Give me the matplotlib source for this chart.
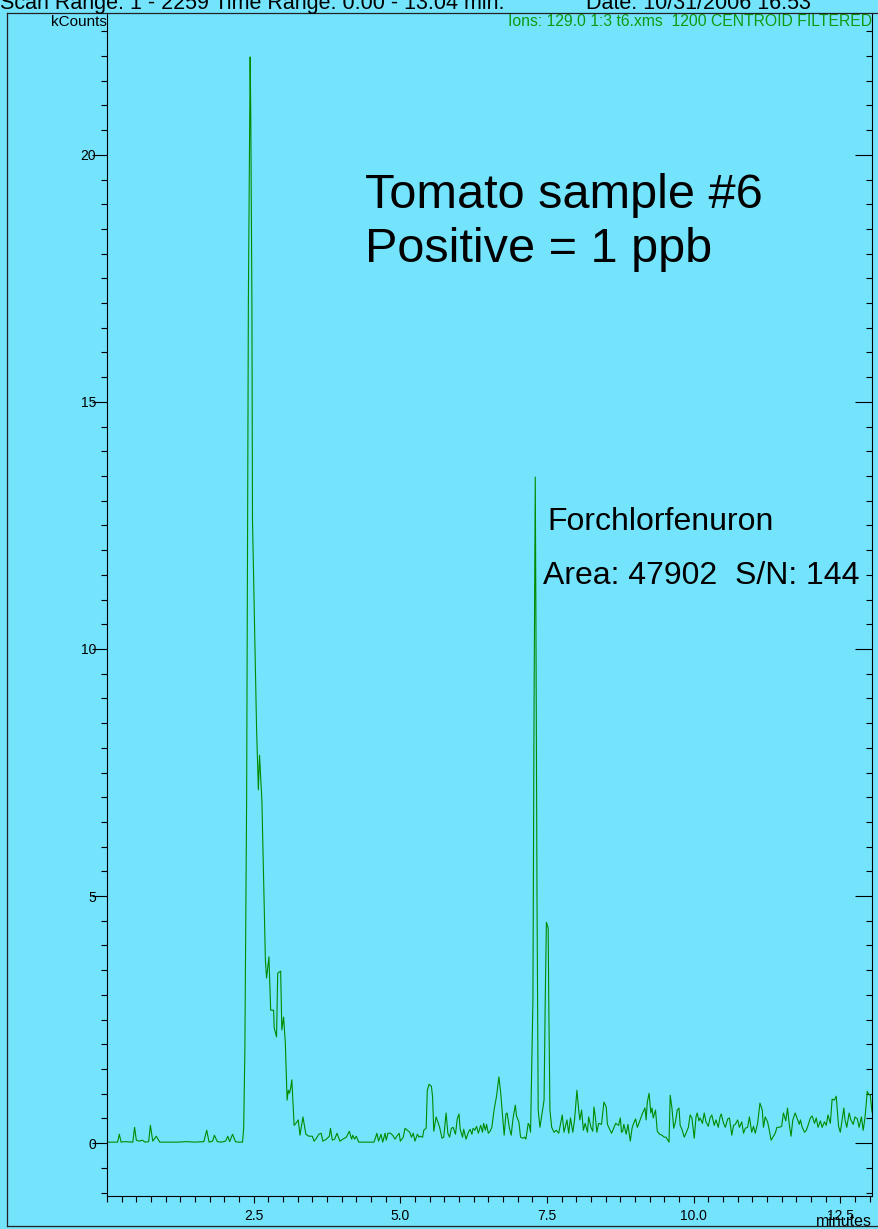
import matplotlib
matplotlib.use("Agg")
import matplotlib.pyplot as plt
from matplotlib.ticker import MultipleLocator, FixedLocator
from matplotlib.lines import Line2D

plt.rcParams['font.family'] = ['Liberation Sans', 'DejaVu Sans']

# --- chromatogram, ion 129.0 (time in minutes, intensity in kCounts) ---
time_min = [
    0.00, 0.18, 0.21, 0.24, 0.30, 0.44, 0.47, 0.50, 0.55, 0.60, 0.65, 0.71, 0.74, 0.78,
    0.84, 0.90, 1.20, 1.35, 1.50, 1.65, 1.70, 1.74, 1.80, 1.83, 1.88, 1.95, 2.02, 2.06,
    2.09, 2.14, 2.19, 2.24,
    2.31, 2.33, 2.35, 2.38, 2.41, 2.44, 2.45, 2.47, 2.48, 2.52, 2.55, 2.58, 2.60, 2.64,
    2.67, 2.70, 2.72, 2.76, 2.79, 2.84, 2.85, 2.89, 2.91, 2.96, 2.98, 3.01, 3.04, 3.07,
    3.09, 3.11, 3.13, 3.15, 3.19, 3.22, 3.26, 3.29,
    3.34, 3.39, 3.44, 3.50, 3.53, 3.57, 3.61, 3.65, 3.68, 3.74, 3.79, 3.81, 3.84, 3.88,
    3.92, 3.97, 4.02, 4.08, 4.13, 4.17, 4.19, 4.22, 4.25, 4.29, 4.55, 4.58, 4.60, 4.63,
    4.67, 4.70, 4.74, 4.76, 4.79, 4.83, 4.87, 4.91, 4.94, 4.98, 5.00, 5.05, 5.08, 5.12,
    5.16, 5.19, 5.22, 5.25, 5.29, 5.32, 5.34, 5.38, 5.40, 5.44, 5.46, 5.49, 5.53, 5.55,
    5.57, 5.61, 5.64, 5.67, 5.71, 5.74, 5.78, 5.81, 5.84, 5.87, 5.90, 5.94, 5.97, 6.00,
    6.02, 6.06, 6.08, 6.12, 6.16, 6.19, 6.22, 6.24, 6.27, 6.30, 6.33, 6.37, 6.40, 6.42,
    6.45, 6.47, 6.50, 6.53, 6.56, 6.60, 6.64, 6.68, 6.71, 6.73, 6.77, 6.80, 6.82, 6.86,
    6.89, 6.92, 6.96, 6.98, 7.02, 7.05, 7.09, 7.12, 7.14, 7.18, 7.20, 7.22,
    7.26, 7.28, 7.30, 7.31, 7.33, 7.35, 7.38, 7.42, 7.45, 7.47, 7.49, 7.52, 7.53, 7.55,
    7.58, 7.62, 7.66, 7.70, 7.76, 7.79, 7.84, 7.87, 7.90, 7.94, 7.97, 8.01, 8.04, 8.06,
    8.09, 8.12, 8.15, 8.19, 8.21, 8.25, 8.28, 8.30, 8.32, 8.35, 8.38, 8.43, 8.47, 8.51,
    8.53, 8.56, 8.60, 8.63, 8.67, 8.72, 8.75, 8.77, 8.79, 8.81, 8.85, 8.88, 8.92, 8.95,
    8.97, 9.01, 9.04, 9.06, 9.10, 9.13, 9.17, 9.19, 9.21, 9.24, 9.27, 9.29, 9.31, 9.35,
    9.38, 9.42, 9.46, 9.50, 9.53, 9.58, 9.60, 9.63, 9.66, 9.69, 9.72, 9.75, 9.77, 9.80,
    9.84, 9.87, 9.91, 9.94, 9.97, 10.01, 10.04, 10.06, 10.09, 10.11, 10.15, 10.18, 10.21,
    10.25, 10.28, 10.31, 10.35, 10.38, 10.42, 10.45, 10.47, 10.51, 10.54, 10.58, 10.61,
    10.65, 10.68, 10.71, 10.75, 10.78, 10.82, 10.85, 10.88, 10.92, 10.95, 10.99, 11.02,
    11.05, 11.09, 11.13, 11.17, 11.19, 11.22, 11.26, 11.28, 11.32, 11.35, 11.39, 11.42,
    11.46, 11.50, 11.53, 11.57, 11.60, 11.63, 11.66, 11.69, 11.73, 11.76, 11.80, 11.82,
    11.85, 11.89, 11.92, 11.95, 11.99, 12.02, 12.06, 12.09, 12.12, 12.16, 12.19, 12.23,
    12.26, 12.29, 12.33, 12.36, 12.40, 12.43, 12.47, 12.50, 12.53, 12.56, 12.58, 12.61,
    12.65, 12.68, 12.72, 12.75, 12.79, 12.82, 12.86, 12.89, 12.92, 12.96, 12.98, 13.01,
    13.04,
]
kcounts = [
    0.02, 0.02, 0.18, 0.02, 0.03, 0.02, 0.32, 0.06, 0.04, 0.06, 0.02, 0.03, 0.36, 0.04,
    0.14, 0.02, 0.02, 0.03, 0.02, 0.03, 0.26, 0.02, 0.04, 0.16, 0.03, 0.02, 0.04, 0.14,
    0.03, 0.18, 0.03, 0.02,
    0.02, 0.30, 1.88, 6.94, 17.06, 21.98, 20.91, 17.06, 12.61, 10.18, 8.36, 7.15, 7.85, 6.94,
    5.32, 3.70, 3.34, 3.77, 2.69, 2.69, 2.33, 2.15, 3.44, 3.48, 2.29, 2.55, 2.02, 0.87,
    1.07, 1.01, 1.11, 1.28, 0.36, 0.40, 0.47, 0.16,
    0.53, 0.18, 0.14, 0.14, 0.04, 0.10, 0.18, 0.20, 0.04, 0.08, 0.14, 0.30, 0.06, 0.08,
    0.20, 0.04, 0.08, 0.12, 0.24, 0.08, 0.16, 0.08, 0.14, 0.02, 0.02, 0.12, 0.20, 0.04,
    0.18, 0.02, 0.20, 0.06, 0.20, 0.20, 0.16, 0.08, 0.14, 0.20, 0.04, 0.12, 0.30, 0.26,
    0.22, 0.12, 0.20, 0.04, 0.18, 0.12, 0.14, 0.12, 0.26, 0.30, 1.07, 1.19, 1.15, 0.93,
    0.24, 0.53, 0.43, 0.32, 0.10, 0.12, 0.61, 0.20, 0.12, 0.30, 0.32, 0.18, 0.49, 0.59,
    0.28, 0.12, 0.28, 0.08, 0.22, 0.28, 0.18, 0.30, 0.26, 0.34, 0.20, 0.36, 0.22, 0.40,
    0.26, 0.38, 0.20, 0.24, 0.32, 0.69, 0.95, 1.34, 1.03, 0.73, 0.16, 0.59, 0.61, 0.30,
    0.16, 0.49, 0.77, 0.55, 0.43, 0.12, 0.10, 0.12, 0.08, 0.40, 0.36, 0.22,
    2.89, 8.97, 13.48, 10.99, 4.92, 0.67, 0.32, 0.63, 0.87, 2.89, 4.47, 4.35, 2.89, 0.67,
    0.32, 0.22, 0.26, 0.20, 0.57, 0.22, 0.47, 0.20, 0.51, 0.22, 0.47, 1.07, 0.67, 0.47,
    0.67, 0.26, 0.40, 0.22, 0.53, 0.32, 0.24, 0.73, 0.57, 0.22, 0.40, 0.38, 0.83, 0.73,
    0.38, 0.30, 0.20, 0.28, 0.40, 0.36, 0.51, 0.22, 0.24, 0.38, 0.18, 0.38, 0.04, 0.30,
    0.38, 0.49, 0.32, 0.38, 0.51, 0.61, 0.71, 0.47, 0.83, 1.01, 0.61, 0.71, 0.51, 0.67,
    0.24, 0.18, 0.16, 0.12, 0.12, 0.02, 0.97, 0.71, 0.30, 0.43, 0.67, 0.71, 0.36, 0.28,
    0.12, 0.20, 0.32, 0.57, 0.51, 0.10, 0.53, 0.61, 0.45, 0.51, 0.40, 0.61, 0.43,
    0.34, 0.51, 0.57, 0.36, 0.47, 0.32, 0.53, 0.59, 0.40, 0.32, 0.49, 0.51,
    0.16, 0.36, 0.38, 0.47, 0.32, 0.43, 0.20, 0.30, 0.32, 0.53, 0.22, 0.34,
    0.20, 0.40, 0.81, 0.67, 0.32, 0.53, 0.43, 0.32, 0.06, 0.12, 0.20, 0.32,
    0.32, 0.34, 0.61, 0.45, 0.71, 0.38, 0.14, 0.47, 0.61, 0.51, 0.38, 0.47,
    0.32, 0.22, 0.26, 0.36, 0.51, 0.55, 0.40, 0.51, 0.32, 0.45, 0.32, 0.43,
    0.36, 0.57, 0.40, 0.89, 0.87, 0.95, 0.34, 0.22, 0.47, 0.71, 0.47, 0.32,
    0.61, 0.47, 0.38, 0.53, 0.49, 0.32, 0.53, 0.26, 0.51, 1.05, 0.99, 0.97,
    0.63,
]

x_major = [2.5, 5.0, 7.5, 10.0, 12.5]
x_labels = ["2.5", "5.0", "7.5", "10.0", "12.5"]
y_major = [0, 5, 10, 15, 20]

header_left = "Scan Range: 1 - 2259 Time Range: 0.00 - 13.04 min."
header_right = "Date: 10/31/2006 16:53"
ion_label = "Ions: 129.0 1:3 t6.xms  1200 CENTROID FILTERED"
sample_line1 = "Tomato sample #6"
sample_line2 = "Positive = 1 ppb"
peak_name = "Forchlorfenuron"
peak_info = "Area: 47902  S/N: 144"

bg = "#74E4FD"
trace_color = "#008C00"

W, H = 879, 1229
fig = plt.figure(figsize=(W / 100, H / 100), dpi=100, facecolor=bg)
ax = fig.add_axes([107 / W, 1 - 1196 / H, (872 - 107) / W, (1196 - 13) / H])
ax.set_facecolor(bg)

ax.plot(time_min, kcounts, color=trace_color, lw=0.8)

ax.set_xlim(0, 13.04)
ax.set_ylim(-1.07, 22.87)

ax.xaxis.set_major_locator(FixedLocator(x_major))
ax.set_xticklabels(x_labels)
ax.xaxis.set_minor_locator(MultipleLocator(0.25))
ax.yaxis.set_major_locator(FixedLocator(y_major))
ax.yaxis.set_minor_locator(MultipleLocator(0.5))

ax.tick_params(axis='x', which='major', direction='out', length=5, width=0.8,
               labelsize=10, pad=4)
ax.tick_params(axis='x', which='minor', direction='out', length=4, width=0.8)
ax.tick_params(axis='y', which='major', direction='out', length=11, width=0.8,
               labelsize=10, pad=-3, right=True)
ax.tick_params(axis='y', which='minor', direction='out', length=4, width=0.8, right=True)
# right-hand ticks point inwards
for t in ax.yaxis.get_major_ticks():
    t.tick2line.set_marker(0)
    t.tick2line.set_markersize(12)
for t in ax.yaxis.get_minor_ticks():
    t.tick2line.set_marker(0)
    t.tick2line.set_markersize(4)

ax.spines['top'].set_visible(False)
for s in ['left', 'right', 'bottom']:
    ax.spines[s].set_linewidth(0.8)

# annotations
ax.text(4.39, 18.93, sample_line1, fontsize=35, ha='left', va='baseline')
ax.text(4.39, 17.83, sample_line2, fontsize=35, ha='left', va='baseline')
ax.text(7.50, 12.41, peak_name, fontsize=23, ha='left', va='baseline')
ax.text(7.43, 11.32, peak_info, fontsize=23, ha='left', va='baseline')

ax.text(0.0, 22.61, "kCounts", fontsize=11, ha='right', va='baseline')
ax.text(1.0, 22.61, ion_label, transform=ax.get_yaxis_transform(), fontsize=11.3,
        ha='right', va='baseline', color='#109A10')
fig.text(872 / W, 1 - 1221 / H, "minutes", fontsize=11.5, ha='right', va='center')

# header, partly cut off at the top
fig.text(0.0, 1 - 9 / H, header_left, fontsize=15.5, ha='left', va='baseline')
fig.text(586 / W, 1 - 9 / H, header_right, fontsize=15.5, ha='left', va='baseline')

# outer frame
fr = dict(color='#222222', lw=0.9, transform=fig.transFigure)
fig.add_artist(Line2D([7 / W, 7 / W], [1 - 13 / H, 1 - 1226 / H], **fr))
fig.add_artist(Line2D([7 / W, 1.0], [1 - 13 / H, 1 - 13 / H], **fr))
fig.add_artist(Line2D([7 / W, 1.0], [1 - 1226 / H, 1 - 1226 / H], **fr))

fig.savefig("out.png", dpi=100, facecolor=bg)
